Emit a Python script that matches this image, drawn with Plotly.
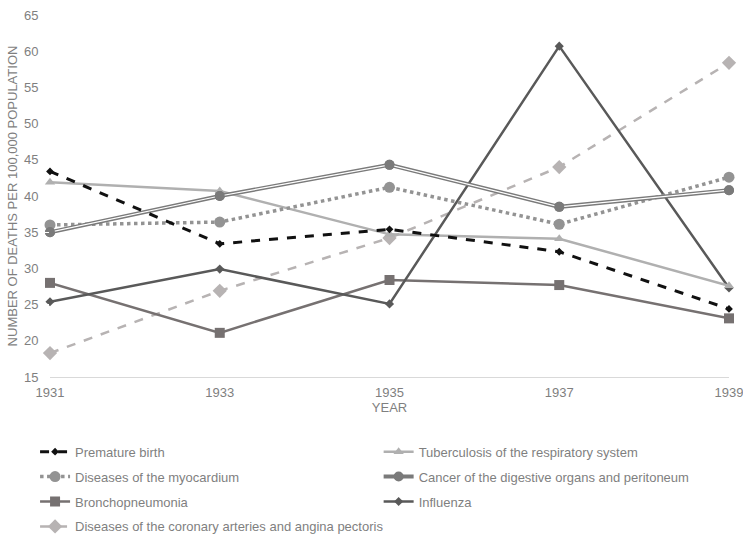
import plotly.graph_objects as go

years = [1931, 1933, 1935, 1937, 1939]
premature_birth = [43.4, 33.4, 35.4, 32.3, 24.4]
tuberculosis = [41.9, 40.7, 34.7, 34.1, 27.6]
myocardium = [36.0, 36.4, 41.2, 36.1, 42.6]
cancer = [35.0, 40.0, 44.3, 38.5, 40.8]
bronchopneumonia = [28.0, 21.1, 28.4, 27.7, 23.1]
influenza = [25.4, 29.9, 25.1, 60.7, 27.3]
coronary = [18.3, 26.9, 34.2, 44.0, 58.4]

y_ticks = [15, 20, 25, 30, 35, 40, 45, 50, 55, 60, 65]

FONT = "Liberation Sans, Arial, sans-serif"
GREY_TXT = "#7f7f7f"

fig = go.Figure()

fig.add_trace(go.Scatter(x=years, y=coronary, name="Diseases of the coronary arteries and angina pectoris",
                         mode="lines+markers", legend="legend", legendgroup="g7", legendrank=4,
                         line=dict(color="#b7b3b3", width=2.5, dash="dash"),
                         marker=dict(symbol="diamond", size=11, color="#b7b3b3"), cliponaxis=False))
fig.add_trace(go.Scatter(x=years, y=bronchopneumonia, name="Bronchopneumonia",
                         mode="lines+markers", legend="legend", legendgroup="g5", legendrank=3,
                         line=dict(color="#767171", width=2.5),
                         marker=dict(symbol="square", size=10, color="#767171"), cliponaxis=False))
fig.add_trace(go.Scatter(x=years, y=influenza, name="Influenza",
                         mode="lines+markers", legend="legend2", legendgroup="g6", legendrank=3,
                         line=dict(color="#595959", width=2.5),
                         marker=dict(symbol="diamond", size=7, color="#595959"), cliponaxis=False))
fig.add_trace(go.Scatter(x=years, y=tuberculosis, name="Tuberculosis of the respiratory system",
                         mode="lines+markers", legend="legend2", legendgroup="g2", legendrank=1,
                         line=dict(color="#b0b0b0", width=2.5),
                         marker=dict(symbol="triangle-up", size=9, color="#b0b0b0"), cliponaxis=False))
fig.add_trace(go.Scatter(x=years, y=myocardium, name="Diseases of the myocardium",
                         mode="lines+markers", legend="legend", legendgroup="g3", legendrank=2,
                         line=dict(color="#939393", width=3.5, dash="dot"),
                         marker=dict(symbol="circle", size=11, color="#939393"), cliponaxis=False))
fig.add_trace(go.Scatter(x=years, y=cancer, name="Cancer of the digestive organs and peritoneum",
                         mode="lines+markers", legend="legend2", legendgroup="g4", legendrank=2,
                         line=dict(color="#7a7a7a", width=4),
                         marker=dict(symbol="circle", size=10, color="#7a7a7a"), cliponaxis=False))
fig.add_trace(go.Scatter(x=years, y=cancer, showlegend=False, hoverinfo="skip",
                         mode="lines", line=dict(color="white", width=1.2), cliponaxis=False))
fig.add_trace(go.Scatter(x=years, y=cancer, showlegend=False, hoverinfo="skip",
                         mode="markers", marker=dict(symbol="circle", size=10, color="#7a7a7a"), cliponaxis=False))
fig.add_trace(go.Scatter(x=years, y=premature_birth, name="Premature birth",
                         mode="lines+markers", legend="legend", legendgroup="g1", legendrank=1,
                         line=dict(color="#111111", width=3, dash="dash"),
                         marker=dict(symbol="diamond", size=6, color="#111111"), cliponaxis=False))

legend_common = dict(orientation="v", font=dict(family=FONT, size=13, color=GREY_TXT),
                     tracegroupgap=5, bgcolor="rgba(0,0,0,0)", xanchor="left", yanchor="top",
                     traceorder="grouped")

fig.update_layout(
    width=743, height=536,
    margin=dict(l=50, r=14, t=15, b=159, autoexpand=False),
    plot_bgcolor="white", paper_bgcolor="white",
    font=dict(family=FONT, size=13, color=GREY_TXT),
    xaxis=dict(range=[1931, 1939], tickvals=years, ticktext=[str(y) for y in years],
               showgrid=False, zeroline=False, showline=True, linecolor="#d9d9d9", linewidth=1,
               ticks="outside", ticklen=3, tickcolor="white", automargin=False,
               ticklabeloverflow="allow",
               tickfont=dict(size=13, color=GREY_TXT),
               title=dict(text="YEAR", font=dict(size=13, color=GREY_TXT), standoff=4)),
    yaxis=dict(range=[15, 65], tickvals=y_ticks, showgrid=False, zeroline=False, showline=False,
               ticks="outside", ticklen=8, tickcolor="white", automargin=False,
               ticklabeloverflow="allow",
               tickfont=dict(size=13, color=GREY_TXT),
               title=dict(text="NUMBER OF DEATHS PER 100,000 POPULATION",
                          font=dict(size=13, color=GREY_TXT), standoff=3)),
    legend=dict(x=-0.022, y=-0.165, **legend_common),
    legend2=dict(x=0.484, y=-0.165, **legend_common),
)

fig.write_html("out.html", config={"displayModeBar": False},
               post_script="document.body.style.margin='0';document.body.style.padding='0';")
